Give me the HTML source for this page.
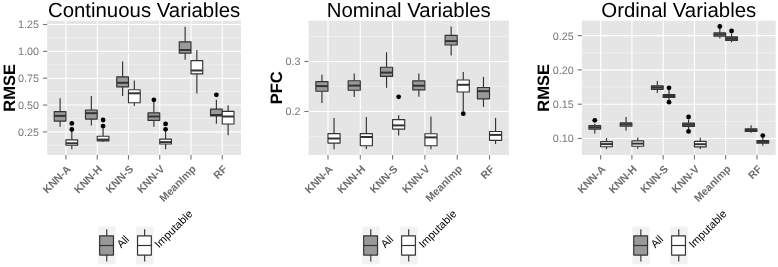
<!DOCTYPE html>
<html lang="en"><head><meta charset="utf-8"><title>Imputation error box plots</title>
<style>html,body{margin:0;padding:0;background:#fff;}body{width:778px;height:267px;overflow:hidden;}svg{display:block;}</style>
</head><body>
<svg width="778" height="267" viewBox="0 0 778 267" text-rendering="geometricPrecision" font-family="'Liberation Sans', Arial, Helvetica, sans-serif">
<rect width="778" height="267" fill="#ffffff"/>
<g>
<text x="144.10" y="16.9" font-size="20.4" text-anchor="middle" fill="#000">Continuous Variables</text>
<rect x="47.2" y="20.7" width="193.80" height="134.3" fill="#e5e5e5"/>
<line x1="47.2" x2="241.0" y1="37.9" y2="37.9" stroke="#f2f2f2" stroke-width="0.7"/>
<line x1="47.2" x2="241.0" y1="64.8" y2="64.8" stroke="#f2f2f2" stroke-width="0.7"/>
<line x1="47.2" x2="241.0" y1="91.6" y2="91.6" stroke="#f2f2f2" stroke-width="0.7"/>
<line x1="47.2" x2="241.0" y1="118.5" y2="118.5" stroke="#f2f2f2" stroke-width="0.7"/>
<line x1="47.2" x2="241.0" y1="145.3" y2="145.3" stroke="#f2f2f2" stroke-width="0.7"/>
<line x1="47.2" x2="241.0" y1="24.5" y2="24.5" stroke="#ffffff" stroke-width="1.1"/>
<line x1="47.2" x2="241.0" y1="51.35" y2="51.35" stroke="#ffffff" stroke-width="1.1"/>
<line x1="47.2" x2="241.0" y1="78.2" y2="78.2" stroke="#ffffff" stroke-width="1.1"/>
<line x1="47.2" x2="241.0" y1="105.05" y2="105.05" stroke="#ffffff" stroke-width="1.1"/>
<line x1="47.2" x2="241.0" y1="131.9" y2="131.9" stroke="#ffffff" stroke-width="1.1"/>
<line x1="65.95" x2="65.95" y1="20.7" y2="155.0" stroke="#ffffff" stroke-width="1.1"/>
<line x1="97.21" x2="97.21" y1="20.7" y2="155.0" stroke="#ffffff" stroke-width="1.1"/>
<line x1="128.47" x2="128.47" y1="20.7" y2="155.0" stroke="#ffffff" stroke-width="1.1"/>
<line x1="159.73" x2="159.73" y1="20.7" y2="155.0" stroke="#ffffff" stroke-width="1.1"/>
<line x1="190.99" x2="190.99" y1="20.7" y2="155.0" stroke="#ffffff" stroke-width="1.1"/>
<line x1="222.25" x2="222.25" y1="20.7" y2="155.0" stroke="#ffffff" stroke-width="1.1"/>
<line x1="42.90" x2="47.2" y1="24.5" y2="24.5" stroke="#757575" stroke-width="1.1"/>
<text x="39.00" y="28.40" font-size="10.8" text-anchor="end" fill="#787878">1.25</text>
<line x1="42.90" x2="47.2" y1="51.35" y2="51.35" stroke="#757575" stroke-width="1.1"/>
<text x="39.00" y="55.25" font-size="10.8" text-anchor="end" fill="#787878">1.00</text>
<line x1="42.90" x2="47.2" y1="78.2" y2="78.2" stroke="#757575" stroke-width="1.1"/>
<text x="39.00" y="82.10" font-size="10.8" text-anchor="end" fill="#787878">0.75</text>
<line x1="42.90" x2="47.2" y1="105.05" y2="105.05" stroke="#757575" stroke-width="1.1"/>
<text x="39.00" y="108.95" font-size="10.8" text-anchor="end" fill="#787878">0.50</text>
<line x1="42.90" x2="47.2" y1="131.9" y2="131.9" stroke="#757575" stroke-width="1.1"/>
<text x="39.00" y="135.80" font-size="10.8" text-anchor="end" fill="#787878">0.25</text>
<line x1="65.95" x2="65.95" y1="155.0" y2="159.6" stroke="#757575" stroke-width="1.1"/>
<text transform="translate(71.55,169.70) rotate(-45)" font-size="10.7" font-weight="bold" text-anchor="end" fill="#6e6e6e">KNN-A</text>
<line x1="97.21" x2="97.21" y1="155.0" y2="159.6" stroke="#757575" stroke-width="1.1"/>
<text transform="translate(102.81,169.70) rotate(-45)" font-size="10.7" font-weight="bold" text-anchor="end" fill="#6e6e6e">KNN-H</text>
<line x1="128.47" x2="128.47" y1="155.0" y2="159.6" stroke="#757575" stroke-width="1.1"/>
<text transform="translate(134.07,169.70) rotate(-45)" font-size="10.7" font-weight="bold" text-anchor="end" fill="#6e6e6e">KNN-S</text>
<line x1="159.73" x2="159.73" y1="155.0" y2="159.6" stroke="#757575" stroke-width="1.1"/>
<text transform="translate(165.33,169.70) rotate(-45)" font-size="10.7" font-weight="bold" text-anchor="end" fill="#6e6e6e">KNN-V</text>
<line x1="190.99" x2="190.99" y1="155.0" y2="159.6" stroke="#757575" stroke-width="1.1"/>
<text transform="translate(196.59,169.70) rotate(-45)" font-size="10.7" font-weight="bold" text-anchor="end" fill="#6e6e6e">MeanImp</text>
<line x1="222.25" x2="222.25" y1="155.0" y2="159.6" stroke="#757575" stroke-width="1.1"/>
<text transform="translate(227.85,169.70) rotate(-45)" font-size="10.7" font-weight="bold" text-anchor="end" fill="#6e6e6e">RF</text>
<text transform="translate(15.3,87.85) rotate(-90)" font-size="16.5" font-weight="bold" text-anchor="middle" fill="#000">RMSE</text>
<line x1="60.09" x2="60.09" y1="98.2" y2="111.60" stroke="#333333" stroke-width="1.15"/>
<line x1="60.09" x2="60.09" y1="121.10" y2="126.7" stroke="#333333" stroke-width="1.15"/>
<rect x="54.23" y="111.60" width="11.72" height="9.50" fill="#999999" stroke="#333333" stroke-width="1.15" stroke-linejoin="round"/>
<line x1="54.23" x2="65.95" y1="115.9" y2="115.9" stroke="#333333" stroke-width="2.0"/>
<circle cx="71.82" cy="123.4" r="2.4" fill="#000"/>
<circle cx="71.82" cy="129.5" r="2.4" fill="#000"/>
<line x1="71.82" x2="71.82" y1="131.5" y2="139.90" stroke="#333333" stroke-width="1.15"/>
<line x1="71.82" x2="71.82" y1="145.30" y2="149.2" stroke="#333333" stroke-width="1.15"/>
<rect x="65.95" y="139.90" width="11.72" height="5.40" fill="#ffffff" stroke="#333333" stroke-width="1.15" stroke-linejoin="round"/>
<line x1="65.95" x2="77.68" y1="143.3" y2="143.3" stroke="#333333" stroke-width="2.0"/>
<line x1="91.35" x2="91.35" y1="96.0" y2="110.00" stroke="#333333" stroke-width="1.15"/>
<line x1="91.35" x2="91.35" y1="119.10" y2="125.5" stroke="#333333" stroke-width="1.15"/>
<rect x="85.49" y="110.00" width="11.72" height="9.10" fill="#999999" stroke="#333333" stroke-width="1.15" stroke-linejoin="round"/>
<line x1="85.49" x2="97.21" y1="113.2" y2="113.2" stroke="#333333" stroke-width="2.0"/>
<circle cx="103.07" cy="120.0" r="2.4" fill="#000"/>
<circle cx="103.07" cy="126.1" r="2.4" fill="#000"/>
<line x1="103.07" x2="103.07" y1="128.0" y2="136.20" stroke="#333333" stroke-width="1.15"/>
<line x1="103.07" x2="103.07" y1="140.80" y2="142.1" stroke="#333333" stroke-width="1.15"/>
<rect x="97.21" y="136.20" width="11.72" height="4.60" fill="#ffffff" stroke="#333333" stroke-width="1.15" stroke-linejoin="round"/>
<line x1="97.21" x2="108.93" y1="139.6" y2="139.6" stroke="#333333" stroke-width="2.0"/>
<line x1="122.61" x2="122.61" y1="61.4" y2="76.90" stroke="#333333" stroke-width="1.15"/>
<line x1="122.61" x2="122.61" y1="86.90" y2="96.0" stroke="#333333" stroke-width="1.15"/>
<rect x="116.75" y="76.90" width="11.72" height="10.00" fill="#999999" stroke="#333333" stroke-width="1.15" stroke-linejoin="round"/>
<line x1="116.75" x2="128.47" y1="82.8" y2="82.8" stroke="#333333" stroke-width="2.0"/>
<line x1="134.33" x2="134.33" y1="80.6" y2="89.70" stroke="#333333" stroke-width="1.15"/>
<line x1="134.33" x2="134.33" y1="102.70" y2="106.1" stroke="#333333" stroke-width="1.15"/>
<rect x="128.47" y="89.70" width="11.72" height="13.00" fill="#ffffff" stroke="#333333" stroke-width="1.15" stroke-linejoin="round"/>
<line x1="128.47" x2="140.19" y1="93.3" y2="93.3" stroke="#333333" stroke-width="2.0"/>
<circle cx="153.87" cy="99.8" r="2.4" fill="#000"/>
<line x1="153.87" x2="153.87" y1="101.9" y2="112.80" stroke="#333333" stroke-width="1.15"/>
<line x1="153.87" x2="153.87" y1="120.30" y2="126.7" stroke="#333333" stroke-width="1.15"/>
<rect x="148.01" y="112.80" width="11.72" height="7.50" fill="#999999" stroke="#333333" stroke-width="1.15" stroke-linejoin="round"/>
<line x1="148.01" x2="159.73" y1="116.5" y2="116.5" stroke="#333333" stroke-width="2.0"/>
<circle cx="165.59" cy="123.9" r="2.4" fill="#000"/>
<circle cx="165.59" cy="129.3" r="2.4" fill="#000"/>
<line x1="165.59" x2="165.59" y1="131.0" y2="139.10" stroke="#333333" stroke-width="1.15"/>
<line x1="165.59" x2="165.59" y1="144.00" y2="149.2" stroke="#333333" stroke-width="1.15"/>
<rect x="159.73" y="139.10" width="11.72" height="4.90" fill="#ffffff" stroke="#333333" stroke-width="1.15" stroke-linejoin="round"/>
<line x1="159.73" x2="171.45" y1="142.1" y2="142.1" stroke="#333333" stroke-width="2.0"/>
<line x1="185.13" x2="185.13" y1="26.8" y2="41.80" stroke="#333333" stroke-width="1.15"/>
<line x1="185.13" x2="185.13" y1="53.20" y2="59.7" stroke="#333333" stroke-width="1.15"/>
<rect x="179.27" y="41.80" width="11.72" height="11.40" fill="#999999" stroke="#333333" stroke-width="1.15" stroke-linejoin="round"/>
<line x1="179.27" x2="190.99" y1="50.0" y2="50.0" stroke="#333333" stroke-width="2.0"/>
<line x1="196.85" x2="196.85" y1="50.0" y2="60.60" stroke="#333333" stroke-width="1.15"/>
<line x1="196.85" x2="196.85" y1="73.90" y2="93.4" stroke="#333333" stroke-width="1.15"/>
<rect x="190.99" y="60.60" width="11.72" height="13.30" fill="#ffffff" stroke="#333333" stroke-width="1.15" stroke-linejoin="round"/>
<line x1="190.99" x2="202.71" y1="70.5" y2="70.5" stroke="#333333" stroke-width="2.0"/>
<circle cx="216.38" cy="94.8" r="2.4" fill="#000"/>
<line x1="216.38" x2="216.38" y1="99.8" y2="109.10" stroke="#333333" stroke-width="1.15"/>
<line x1="216.38" x2="216.38" y1="116.00" y2="123.8" stroke="#333333" stroke-width="1.15"/>
<rect x="210.52" y="109.10" width="11.72" height="6.90" fill="#999999" stroke="#333333" stroke-width="1.15" stroke-linejoin="round"/>
<line x1="210.52" x2="222.25" y1="115.0" y2="115.0" stroke="#333333" stroke-width="2.0"/>
<line x1="228.11" x2="228.11" y1="105.2" y2="111.30" stroke="#333333" stroke-width="1.15"/>
<line x1="228.11" x2="228.11" y1="124.00" y2="135.2" stroke="#333333" stroke-width="1.15"/>
<rect x="222.25" y="111.30" width="11.72" height="12.70" fill="#ffffff" stroke="#333333" stroke-width="1.15" stroke-linejoin="round"/>
<line x1="222.25" x2="233.97" y1="116.5" y2="116.5" stroke="#333333" stroke-width="2.0"/>
<rect x="98.20" y="226.5" width="17.4" height="37.80" fill="#f2f2f2"/>
<line x1="106.75" x2="106.75" y1="229.3" y2="261.6" stroke="#333333" stroke-width="1.15"/>
<rect x="99.65" y="235.85" width="13.8" height="19.2" fill="#999999" stroke="#333333" stroke-width="1.15" stroke-linejoin="round"/>
<line x1="99.65" x2="113.45" y1="245.5" y2="245.5" stroke="#333333" stroke-width="1.2"/>
<text transform="translate(121.20,248.6) rotate(-45)" font-size="11.0" fill="#000">All</text>
<rect x="136.10" y="226.5" width="17.4" height="37.80" fill="#f2f2f2"/>
<line x1="144.65" x2="144.65" y1="229.3" y2="261.6" stroke="#333333" stroke-width="1.15"/>
<rect x="137.55" y="235.85" width="13.8" height="19.2" fill="#ffffff" stroke="#333333" stroke-width="1.15" stroke-linejoin="round"/>
<line x1="137.55" x2="151.35" y1="245.5" y2="245.5" stroke="#333333" stroke-width="1.2"/>
<text transform="translate(159.10,248.6) rotate(-45)" font-size="11.0" fill="#000">Imputable</text>
</g>
<g>
<text x="408.75" y="16.9" font-size="20.4" text-anchor="middle" fill="#000">Nominal Variables</text>
<rect x="308.6" y="20.7" width="200.30" height="134.3" fill="#e5e5e5"/>
<line x1="308.6" x2="508.9" y1="36.5" y2="36.5" stroke="#f2f2f2" stroke-width="0.7"/>
<line x1="308.6" x2="508.9" y1="86.5" y2="86.5" stroke="#f2f2f2" stroke-width="0.7"/>
<line x1="308.6" x2="508.9" y1="136.5" y2="136.5" stroke="#f2f2f2" stroke-width="0.7"/>
<line x1="308.6" x2="508.9" y1="61.5" y2="61.5" stroke="#ffffff" stroke-width="1.1"/>
<line x1="308.6" x2="508.9" y1="111.5" y2="111.5" stroke="#ffffff" stroke-width="1.1"/>
<line x1="327.98" x2="327.98" y1="20.7" y2="155.0" stroke="#ffffff" stroke-width="1.1"/>
<line x1="360.29" x2="360.29" y1="20.7" y2="155.0" stroke="#ffffff" stroke-width="1.1"/>
<line x1="392.60" x2="392.60" y1="20.7" y2="155.0" stroke="#ffffff" stroke-width="1.1"/>
<line x1="424.90" x2="424.90" y1="20.7" y2="155.0" stroke="#ffffff" stroke-width="1.1"/>
<line x1="457.21" x2="457.21" y1="20.7" y2="155.0" stroke="#ffffff" stroke-width="1.1"/>
<line x1="489.52" x2="489.52" y1="20.7" y2="155.0" stroke="#ffffff" stroke-width="1.1"/>
<line x1="304.30" x2="308.6" y1="61.5" y2="61.5" stroke="#757575" stroke-width="1.1"/>
<text x="300.40" y="65.40" font-size="10.8" text-anchor="end" fill="#787878">0.3</text>
<line x1="304.30" x2="308.6" y1="111.5" y2="111.5" stroke="#757575" stroke-width="1.1"/>
<text x="300.40" y="115.40" font-size="10.8" text-anchor="end" fill="#787878">0.2</text>
<line x1="327.98" x2="327.98" y1="155.0" y2="159.6" stroke="#757575" stroke-width="1.1"/>
<text transform="translate(333.58,169.70) rotate(-45)" font-size="10.7" font-weight="bold" text-anchor="end" fill="#6e6e6e">KNN-A</text>
<line x1="360.29" x2="360.29" y1="155.0" y2="159.6" stroke="#757575" stroke-width="1.1"/>
<text transform="translate(365.89,169.70) rotate(-45)" font-size="10.7" font-weight="bold" text-anchor="end" fill="#6e6e6e">KNN-H</text>
<line x1="392.60" x2="392.60" y1="155.0" y2="159.6" stroke="#757575" stroke-width="1.1"/>
<text transform="translate(398.20,169.70) rotate(-45)" font-size="10.7" font-weight="bold" text-anchor="end" fill="#6e6e6e">KNN-S</text>
<line x1="424.90" x2="424.90" y1="155.0" y2="159.6" stroke="#757575" stroke-width="1.1"/>
<text transform="translate(430.50,169.70) rotate(-45)" font-size="10.7" font-weight="bold" text-anchor="end" fill="#6e6e6e">KNN-V</text>
<line x1="457.21" x2="457.21" y1="155.0" y2="159.6" stroke="#757575" stroke-width="1.1"/>
<text transform="translate(462.81,169.70) rotate(-45)" font-size="10.7" font-weight="bold" text-anchor="end" fill="#6e6e6e">MeanImp</text>
<line x1="489.52" x2="489.52" y1="155.0" y2="159.6" stroke="#757575" stroke-width="1.1"/>
<text transform="translate(495.12,169.70) rotate(-45)" font-size="10.7" font-weight="bold" text-anchor="end" fill="#6e6e6e">RF</text>
<text transform="translate(281.9,87.85) rotate(-90)" font-size="16.5" font-weight="bold" text-anchor="middle" fill="#000">PFC</text>
<line x1="321.93" x2="321.93" y1="74.8" y2="81.60" stroke="#333333" stroke-width="1.15"/>
<line x1="321.93" x2="321.93" y1="91.20" y2="103.0" stroke="#333333" stroke-width="1.15"/>
<rect x="315.87" y="81.60" width="12.11" height="9.60" fill="#999999" stroke="#333333" stroke-width="1.15" stroke-linejoin="round"/>
<line x1="315.87" x2="327.98" y1="86.1" y2="86.1" stroke="#333333" stroke-width="2.0"/>
<line x1="334.04" x2="334.04" y1="118.1" y2="133.60" stroke="#333333" stroke-width="1.15"/>
<line x1="334.04" x2="334.04" y1="143.10" y2="149.2" stroke="#333333" stroke-width="1.15"/>
<rect x="327.98" y="133.60" width="12.11" height="9.50" fill="#ffffff" stroke="#333333" stroke-width="1.15" stroke-linejoin="round"/>
<line x1="327.98" x2="340.10" y1="138.5" y2="138.5" stroke="#333333" stroke-width="2.0"/>
<line x1="354.23" x2="354.23" y1="73.5" y2="80.70" stroke="#333333" stroke-width="1.15"/>
<line x1="354.23" x2="354.23" y1="90.20" y2="97.1" stroke="#333333" stroke-width="1.15"/>
<rect x="348.18" y="80.70" width="12.11" height="9.50" fill="#999999" stroke="#333333" stroke-width="1.15" stroke-linejoin="round"/>
<line x1="348.18" x2="360.29" y1="85.6" y2="85.6" stroke="#333333" stroke-width="2.0"/>
<line x1="366.35" x2="366.35" y1="116.9" y2="133.60" stroke="#333333" stroke-width="1.15"/>
<line x1="366.35" x2="366.35" y1="145.70" y2="148.9" stroke="#333333" stroke-width="1.15"/>
<rect x="360.29" y="133.60" width="12.11" height="12.10" fill="#ffffff" stroke="#333333" stroke-width="1.15" stroke-linejoin="round"/>
<line x1="360.29" x2="372.41" y1="137.0" y2="137.0" stroke="#333333" stroke-width="2.0"/>
<line x1="386.54" x2="386.54" y1="52.2" y2="67.20" stroke="#333333" stroke-width="1.15"/>
<line x1="386.54" x2="386.54" y1="76.40" y2="87.8" stroke="#333333" stroke-width="1.15"/>
<rect x="380.48" y="67.20" width="12.11" height="9.20" fill="#999999" stroke="#333333" stroke-width="1.15" stroke-linejoin="round"/>
<line x1="380.48" x2="392.60" y1="72.6" y2="72.6" stroke="#333333" stroke-width="2.0"/>
<circle cx="398.65" cy="96.8" r="2.4" fill="#000"/>
<line x1="398.65" x2="398.65" y1="115.2" y2="119.60" stroke="#333333" stroke-width="1.15"/>
<line x1="398.65" x2="398.65" y1="129.10" y2="135.5" stroke="#333333" stroke-width="1.15"/>
<rect x="392.60" y="119.60" width="12.11" height="9.50" fill="#ffffff" stroke="#333333" stroke-width="1.15" stroke-linejoin="round"/>
<line x1="392.60" x2="404.71" y1="125.4" y2="125.4" stroke="#333333" stroke-width="2.0"/>
<line x1="418.85" x2="418.85" y1="73.5" y2="80.80" stroke="#333333" stroke-width="1.15"/>
<line x1="418.85" x2="418.85" y1="89.90" y2="96.8" stroke="#333333" stroke-width="1.15"/>
<rect x="412.79" y="80.80" width="12.11" height="9.10" fill="#999999" stroke="#333333" stroke-width="1.15" stroke-linejoin="round"/>
<line x1="412.79" x2="424.90" y1="85.7" y2="85.7" stroke="#333333" stroke-width="2.0"/>
<line x1="430.96" x2="430.96" y1="116.5" y2="133.70" stroke="#333333" stroke-width="1.15"/>
<line x1="430.96" x2="430.96" y1="145.70" y2="149.2" stroke="#333333" stroke-width="1.15"/>
<rect x="424.90" y="133.70" width="12.11" height="12.00" fill="#ffffff" stroke="#333333" stroke-width="1.15" stroke-linejoin="round"/>
<line x1="424.90" x2="437.02" y1="137.4" y2="137.4" stroke="#333333" stroke-width="2.0"/>
<line x1="451.15" x2="451.15" y1="26.4" y2="35.40" stroke="#333333" stroke-width="1.15"/>
<line x1="451.15" x2="451.15" y1="45.00" y2="55.4" stroke="#333333" stroke-width="1.15"/>
<rect x="445.09" y="35.40" width="12.11" height="9.60" fill="#999999" stroke="#333333" stroke-width="1.15" stroke-linejoin="round"/>
<line x1="445.09" x2="457.21" y1="41.1" y2="41.1" stroke="#333333" stroke-width="2.0"/>
<circle cx="463.27" cy="113.7" r="2.4" fill="#000"/>
<line x1="463.27" x2="463.27" y1="71.9" y2="80.00" stroke="#333333" stroke-width="1.15"/>
<line x1="463.27" x2="463.27" y1="92.00" y2="111.5" stroke="#333333" stroke-width="1.15"/>
<rect x="457.21" y="80.00" width="12.11" height="12.00" fill="#ffffff" stroke="#333333" stroke-width="1.15" stroke-linejoin="round"/>
<line x1="457.21" x2="469.32" y1="84.8" y2="84.8" stroke="#333333" stroke-width="2.0"/>
<line x1="483.46" x2="483.46" y1="76.9" y2="87.50" stroke="#333333" stroke-width="1.15"/>
<line x1="483.46" x2="483.46" y1="98.80" y2="106.9" stroke="#333333" stroke-width="1.15"/>
<rect x="477.40" y="87.50" width="12.11" height="11.30" fill="#999999" stroke="#333333" stroke-width="1.15" stroke-linejoin="round"/>
<line x1="477.40" x2="489.52" y1="91.2" y2="91.2" stroke="#333333" stroke-width="2.0"/>
<line x1="495.57" x2="495.57" y1="117.9" y2="131.50" stroke="#333333" stroke-width="1.15"/>
<line x1="495.57" x2="495.57" y1="140.30" y2="144.1" stroke="#333333" stroke-width="1.15"/>
<rect x="489.52" y="131.50" width="12.11" height="8.80" fill="#ffffff" stroke="#333333" stroke-width="1.15" stroke-linejoin="round"/>
<line x1="489.52" x2="501.63" y1="134.9" y2="134.9" stroke="#333333" stroke-width="2.0"/>
<rect x="362.25" y="226.5" width="17.4" height="37.80" fill="#f2f2f2"/>
<line x1="370.80" x2="370.80" y1="229.3" y2="261.6" stroke="#333333" stroke-width="1.15"/>
<rect x="363.70" y="235.85" width="13.8" height="19.2" fill="#999999" stroke="#333333" stroke-width="1.15" stroke-linejoin="round"/>
<line x1="363.70" x2="377.50" y1="245.5" y2="245.5" stroke="#333333" stroke-width="1.2"/>
<text transform="translate(385.25,248.6) rotate(-45)" font-size="11.0" fill="#000">All</text>
<rect x="400.15" y="226.5" width="17.4" height="37.80" fill="#f2f2f2"/>
<line x1="408.70" x2="408.70" y1="229.3" y2="261.6" stroke="#333333" stroke-width="1.15"/>
<rect x="401.60" y="235.85" width="13.8" height="19.2" fill="#ffffff" stroke="#333333" stroke-width="1.15" stroke-linejoin="round"/>
<line x1="401.60" x2="415.40" y1="245.5" y2="245.5" stroke="#333333" stroke-width="1.2"/>
<text transform="translate(423.15,248.6) rotate(-45)" font-size="11.0" fill="#000">Imputable</text>
</g>
<g>
<text x="678.80" y="16.9" font-size="20.4" text-anchor="middle" fill="#000">Ordinal Variables</text>
<rect x="581.9" y="20.7" width="193.80" height="134.3" fill="#e5e5e5"/>
<line x1="581.9" x2="775.7" y1="52.75" y2="52.75" stroke="#f2f2f2" stroke-width="0.7"/>
<line x1="581.9" x2="775.7" y1="87.05" y2="87.05" stroke="#f2f2f2" stroke-width="0.7"/>
<line x1="581.9" x2="775.7" y1="121.35" y2="121.35" stroke="#f2f2f2" stroke-width="0.7"/>
<line x1="581.9" x2="775.7" y1="35.6" y2="35.6" stroke="#ffffff" stroke-width="1.1"/>
<line x1="581.9" x2="775.7" y1="69.9" y2="69.9" stroke="#ffffff" stroke-width="1.1"/>
<line x1="581.9" x2="775.7" y1="104.2" y2="104.2" stroke="#ffffff" stroke-width="1.1"/>
<line x1="581.9" x2="775.7" y1="138.5" y2="138.5" stroke="#ffffff" stroke-width="1.1"/>
<line x1="600.65" x2="600.65" y1="20.7" y2="155.0" stroke="#ffffff" stroke-width="1.1"/>
<line x1="631.91" x2="631.91" y1="20.7" y2="155.0" stroke="#ffffff" stroke-width="1.1"/>
<line x1="663.17" x2="663.17" y1="20.7" y2="155.0" stroke="#ffffff" stroke-width="1.1"/>
<line x1="694.43" x2="694.43" y1="20.7" y2="155.0" stroke="#ffffff" stroke-width="1.1"/>
<line x1="725.69" x2="725.69" y1="20.7" y2="155.0" stroke="#ffffff" stroke-width="1.1"/>
<line x1="756.95" x2="756.95" y1="20.7" y2="155.0" stroke="#ffffff" stroke-width="1.1"/>
<line x1="577.60" x2="581.9" y1="35.6" y2="35.6" stroke="#757575" stroke-width="1.1"/>
<text x="573.70" y="39.50" font-size="10.8" text-anchor="end" fill="#787878">0.25</text>
<line x1="577.60" x2="581.9" y1="69.9" y2="69.9" stroke="#757575" stroke-width="1.1"/>
<text x="573.70" y="73.80" font-size="10.8" text-anchor="end" fill="#787878">0.20</text>
<line x1="577.60" x2="581.9" y1="104.2" y2="104.2" stroke="#757575" stroke-width="1.1"/>
<text x="573.70" y="108.10" font-size="10.8" text-anchor="end" fill="#787878">0.15</text>
<line x1="577.60" x2="581.9" y1="138.5" y2="138.5" stroke="#757575" stroke-width="1.1"/>
<text x="573.70" y="142.40" font-size="10.8" text-anchor="end" fill="#787878">0.10</text>
<line x1="600.65" x2="600.65" y1="155.0" y2="159.6" stroke="#757575" stroke-width="1.1"/>
<text transform="translate(606.25,169.70) rotate(-45)" font-size="10.7" font-weight="bold" text-anchor="end" fill="#6e6e6e">KNN-A</text>
<line x1="631.91" x2="631.91" y1="155.0" y2="159.6" stroke="#757575" stroke-width="1.1"/>
<text transform="translate(637.51,169.70) rotate(-45)" font-size="10.7" font-weight="bold" text-anchor="end" fill="#6e6e6e">KNN-H</text>
<line x1="663.17" x2="663.17" y1="155.0" y2="159.6" stroke="#757575" stroke-width="1.1"/>
<text transform="translate(668.77,169.70) rotate(-45)" font-size="10.7" font-weight="bold" text-anchor="end" fill="#6e6e6e">KNN-S</text>
<line x1="694.43" x2="694.43" y1="155.0" y2="159.6" stroke="#757575" stroke-width="1.1"/>
<text transform="translate(700.03,169.70) rotate(-45)" font-size="10.7" font-weight="bold" text-anchor="end" fill="#6e6e6e">KNN-V</text>
<line x1="725.69" x2="725.69" y1="155.0" y2="159.6" stroke="#757575" stroke-width="1.1"/>
<text transform="translate(731.29,169.70) rotate(-45)" font-size="10.7" font-weight="bold" text-anchor="end" fill="#6e6e6e">MeanImp</text>
<line x1="756.95" x2="756.95" y1="155.0" y2="159.6" stroke="#757575" stroke-width="1.1"/>
<text transform="translate(762.55,169.70) rotate(-45)" font-size="10.7" font-weight="bold" text-anchor="end" fill="#6e6e6e">RF</text>
<text transform="translate(549.2,87.85) rotate(-90)" font-size="16.5" font-weight="bold" text-anchor="middle" fill="#000">RMSE</text>
<circle cx="594.79" cy="120.3" r="2.4" fill="#000"/>
<line x1="594.79" x2="594.79" y1="123.7" y2="125.50" stroke="#333333" stroke-width="1.15"/>
<line x1="594.79" x2="594.79" y1="129.10" y2="133.8" stroke="#333333" stroke-width="1.15"/>
<rect x="588.93" y="125.50" width="11.72" height="3.60" fill="#999999" stroke="#333333" stroke-width="1.15" stroke-linejoin="round"/>
<line x1="588.93" x2="600.65" y1="127.3" y2="127.3" stroke="#333333" stroke-width="2.0"/>
<line x1="606.52" x2="606.52" y1="137.9" y2="141.60" stroke="#333333" stroke-width="1.15"/>
<line x1="606.52" x2="606.52" y1="146.70" y2="149.2" stroke="#333333" stroke-width="1.15"/>
<rect x="600.65" y="141.60" width="11.72" height="5.10" fill="#ffffff" stroke="#333333" stroke-width="1.15" stroke-linejoin="round"/>
<line x1="600.65" x2="612.38" y1="144.1" y2="144.1" stroke="#333333" stroke-width="2.0"/>
<line x1="626.05" x2="626.05" y1="116.9" y2="122.80" stroke="#333333" stroke-width="1.15"/>
<line x1="626.05" x2="626.05" y1="126.20" y2="130.8" stroke="#333333" stroke-width="1.15"/>
<rect x="620.19" y="122.80" width="11.72" height="3.40" fill="#999999" stroke="#333333" stroke-width="1.15" stroke-linejoin="round"/>
<line x1="620.19" x2="631.91" y1="124.5" y2="124.5" stroke="#333333" stroke-width="2.0"/>
<line x1="637.77" x2="637.77" y1="137.4" y2="140.90" stroke="#333333" stroke-width="1.15"/>
<line x1="637.77" x2="637.77" y1="146.20" y2="148.7" stroke="#333333" stroke-width="1.15"/>
<rect x="631.91" y="140.90" width="11.72" height="5.30" fill="#ffffff" stroke="#333333" stroke-width="1.15" stroke-linejoin="round"/>
<line x1="631.91" x2="643.63" y1="143.6" y2="143.6" stroke="#333333" stroke-width="2.0"/>
<line x1="657.31" x2="657.31" y1="81.1" y2="85.80" stroke="#333333" stroke-width="1.15"/>
<line x1="657.31" x2="657.31" y1="89.30" y2="92.9" stroke="#333333" stroke-width="1.15"/>
<rect x="651.45" y="85.80" width="11.72" height="3.50" fill="#999999" stroke="#333333" stroke-width="1.15" stroke-linejoin="round"/>
<line x1="651.45" x2="663.17" y1="87.5" y2="87.5" stroke="#333333" stroke-width="2.0"/>
<circle cx="669.03" cy="87.8" r="2.4" fill="#000"/>
<circle cx="669.03" cy="102.2" r="2.4" fill="#000"/>
<line x1="669.03" x2="669.03" y1="90.0" y2="94.60" stroke="#333333" stroke-width="1.15"/>
<line x1="669.03" x2="669.03" y1="97.40" y2="100.0" stroke="#333333" stroke-width="1.15"/>
<rect x="663.17" y="94.60" width="11.72" height="2.80" fill="#6a6a6a" stroke="#333333" stroke-width="1.15" stroke-linejoin="round"/>
<line x1="663.17" x2="674.89" y1="96.0" y2="96.0" stroke="#333333" stroke-width="2.0"/>
<circle cx="688.57" cy="117.0" r="2.4" fill="#000"/>
<circle cx="688.57" cy="131.4" r="2.4" fill="#000"/>
<line x1="688.57" x2="688.57" y1="119.5" y2="123.10" stroke="#333333" stroke-width="1.15"/>
<line x1="688.57" x2="688.57" y1="126.40" y2="129.0" stroke="#333333" stroke-width="1.15"/>
<rect x="682.71" y="123.10" width="11.72" height="3.30" fill="#999999" stroke="#333333" stroke-width="1.15" stroke-linejoin="round"/>
<line x1="682.71" x2="694.43" y1="124.7" y2="124.7" stroke="#333333" stroke-width="2.0"/>
<line x1="700.29" x2="700.29" y1="137.8" y2="141.40" stroke="#333333" stroke-width="1.15"/>
<line x1="700.29" x2="700.29" y1="146.90" y2="149.1" stroke="#333333" stroke-width="1.15"/>
<rect x="694.43" y="141.40" width="11.72" height="5.50" fill="#ffffff" stroke="#333333" stroke-width="1.15" stroke-linejoin="round"/>
<line x1="694.43" x2="706.15" y1="144.2" y2="144.2" stroke="#333333" stroke-width="2.0"/>
<circle cx="719.83" cy="26.5" r="2.4" fill="#000"/>
<line x1="719.83" x2="719.83" y1="28.7" y2="32.90" stroke="#333333" stroke-width="1.15"/>
<line x1="719.83" x2="719.83" y1="36.20" y2="38.4" stroke="#333333" stroke-width="1.15"/>
<rect x="713.97" y="32.90" width="11.72" height="3.30" fill="#999999" stroke="#333333" stroke-width="1.15" stroke-linejoin="round"/>
<line x1="713.97" x2="725.69" y1="34.5" y2="34.5" stroke="#333333" stroke-width="2.0"/>
<circle cx="731.55" cy="31.0" r="2.4" fill="#000"/>
<line x1="731.55" x2="731.55" y1="33.5" y2="36.90" stroke="#333333" stroke-width="1.15"/>
<line x1="731.55" x2="731.55" y1="40.50" y2="42.3" stroke="#333333" stroke-width="1.15"/>
<rect x="725.69" y="36.90" width="11.72" height="3.60" fill="#6a6a6a" stroke="#333333" stroke-width="1.15" stroke-linejoin="round"/>
<line x1="725.69" x2="737.41" y1="38.7" y2="38.7" stroke="#333333" stroke-width="2.0"/>
<line x1="751.08" x2="751.08" y1="125.2" y2="128.70" stroke="#333333" stroke-width="1.15"/>
<line x1="751.08" x2="751.08" y1="131.40" y2="132.8" stroke="#333333" stroke-width="1.15"/>
<rect x="745.22" y="128.70" width="11.72" height="2.70" fill="#999999" stroke="#333333" stroke-width="1.15" stroke-linejoin="round"/>
<line x1="745.22" x2="756.95" y1="130.0" y2="130.0" stroke="#333333" stroke-width="2.0"/>
<circle cx="762.81" cy="135.6" r="2.4" fill="#000"/>
<line x1="762.81" x2="762.81" y1="138.0" y2="140.50" stroke="#333333" stroke-width="1.15"/>
<line x1="762.81" x2="762.81" y1="143.20" y2="145.8" stroke="#333333" stroke-width="1.15"/>
<rect x="756.95" y="140.50" width="11.72" height="2.70" fill="#6a6a6a" stroke="#333333" stroke-width="1.15" stroke-linejoin="round"/>
<line x1="756.95" x2="768.67" y1="141.8" y2="141.8" stroke="#333333" stroke-width="2.0"/>
<rect x="632.30" y="226.5" width="17.4" height="37.80" fill="#f2f2f2"/>
<line x1="640.85" x2="640.85" y1="229.3" y2="261.6" stroke="#333333" stroke-width="1.15"/>
<rect x="633.75" y="235.85" width="13.8" height="19.2" fill="#999999" stroke="#333333" stroke-width="1.15" stroke-linejoin="round"/>
<line x1="633.75" x2="647.55" y1="245.5" y2="245.5" stroke="#333333" stroke-width="1.2"/>
<text transform="translate(655.30,248.6) rotate(-45)" font-size="11.0" fill="#000">All</text>
<rect x="670.20" y="226.5" width="17.4" height="37.80" fill="#f2f2f2"/>
<line x1="678.75" x2="678.75" y1="229.3" y2="261.6" stroke="#333333" stroke-width="1.15"/>
<rect x="671.65" y="235.85" width="13.8" height="19.2" fill="#ffffff" stroke="#333333" stroke-width="1.15" stroke-linejoin="round"/>
<line x1="671.65" x2="685.45" y1="245.5" y2="245.5" stroke="#333333" stroke-width="1.2"/>
<text transform="translate(693.20,248.6) rotate(-45)" font-size="11.0" fill="#000">Imputable</text>
</g>
</svg>
</body></html>
